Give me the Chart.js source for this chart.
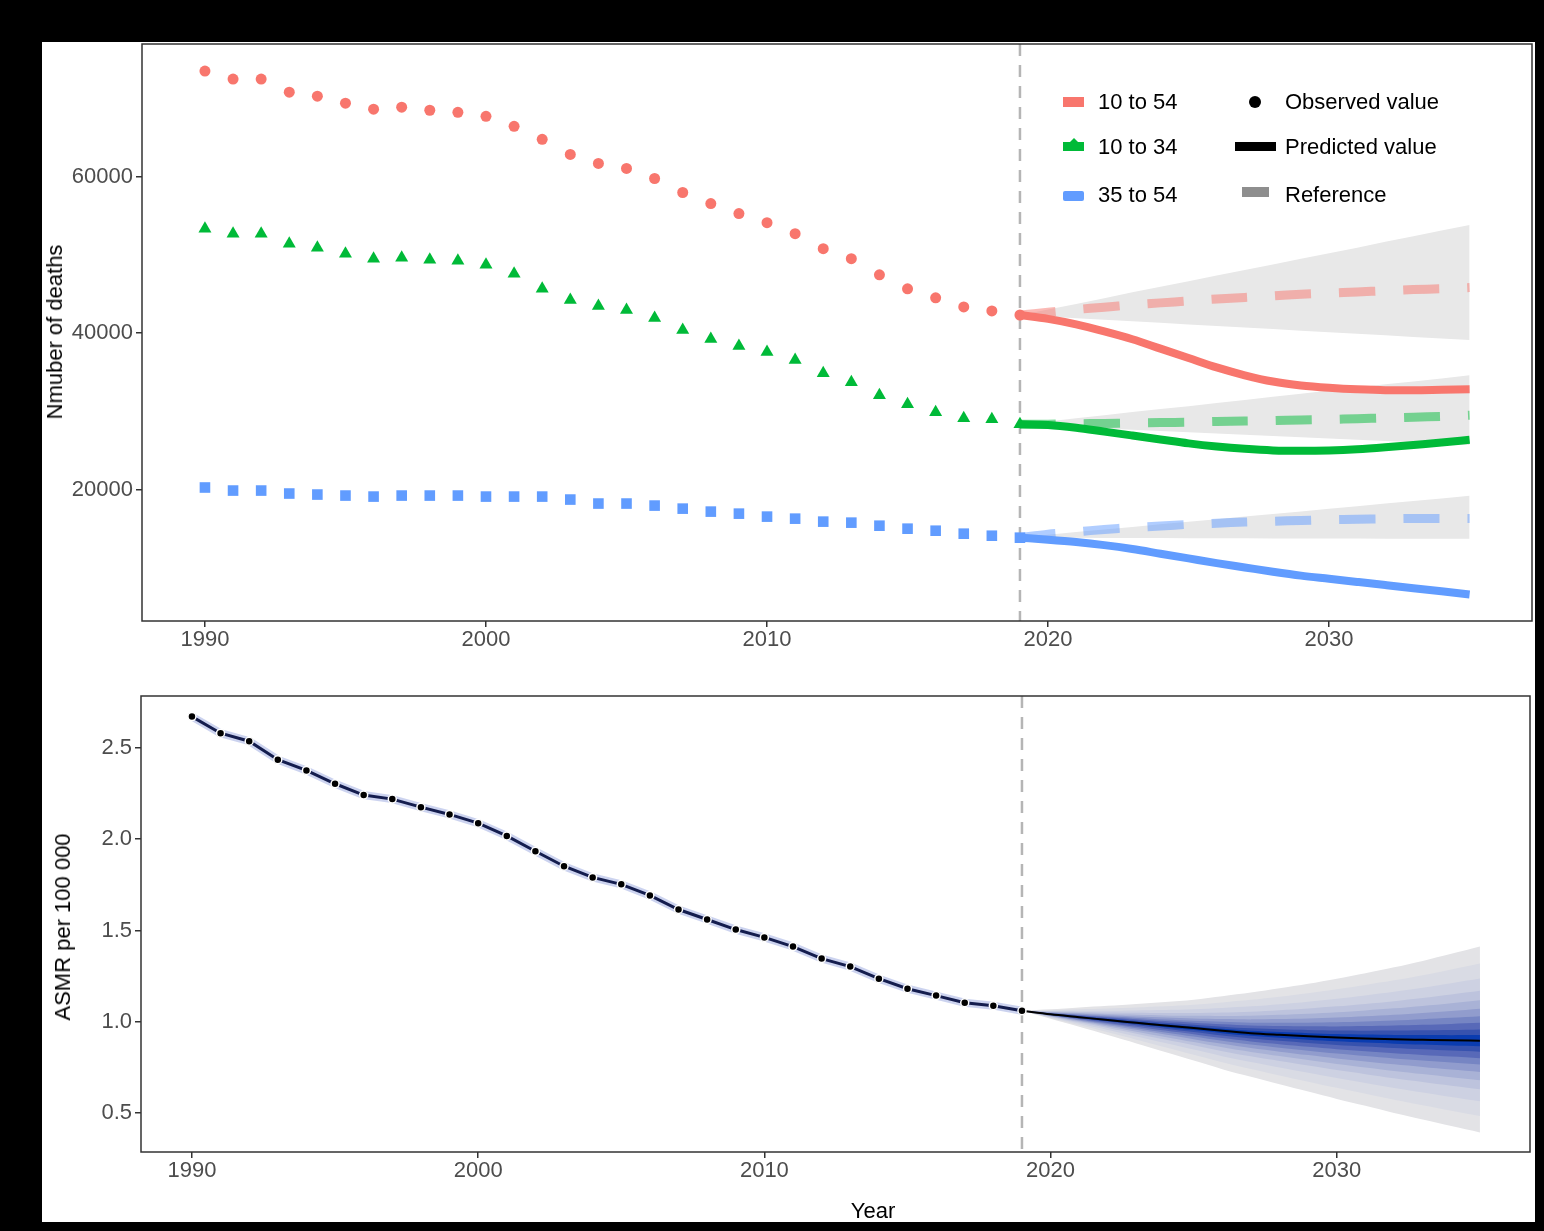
<!DOCTYPE html>
<html>
<head>
<meta charset="utf-8">
<script src="https://cdn.jsdelivr.net/npm/chart.js@4.4.1/dist/chart.umd.min.js"></script>
<style>
  html, body { margin: 0; padding: 0; background: #000; }
  body { width: 1544px; height: 1231px; position: relative; overflow: hidden; font-family: 'Liberation Sans', Arial, sans-serif; }
  #panel { position: absolute; left: 42px; top: 42px; width: 1493px; height: 1180px; background: #fff; overflow: hidden; }
  canvas { position: absolute; left: 0; }
  .ytitle { position: absolute; font-size: 22px; line-height: 22px; color: #000; white-space: nowrap; transform: translate(-50%, -50%) rotate(-90deg); }
  .xtitle { position: absolute; font-size: 22px; line-height: 22px; color: #000; transform: translateX(-50%); }
  .lg-txt { position: absolute; font-size: 22px; line-height: 22px; height: 22px; color: #000; white-space: nowrap; }
  .lg-key { position: absolute; }
</style>
</head>
<body>
<div id="panel">
  <canvas id="deaths" width="1493" height="640" style="top:0"></canvas>
  <canvas id="asmr" width="1493" height="506" style="top:652px"></canvas>

  <div class="ytitle" style="left:13px; top:290px;">Nmuber of deaths</div>
  <div class="ytitle" style="left:21px; top:885px;">ASMR per 100 000</div>
  <div class="xtitle" style="left:831px; top:1158px;">Year</div>

  <!-- legend, top chart -->
  <div class="lg-key" style="left:1021px; top:55px; width:21px; height:10px; background:#F8766D;"></div>
  <div class="lg-key" style="left:1021px; top:100px; width:21px; height:9px; background:#00BA38;"></div>
  <div class="lg-key" style="left:1027px; top:96px; width:0; height:0; border-left:5px solid transparent; border-right:5px solid transparent; border-bottom:5px solid #00BA38;"></div>
  <div class="lg-key" style="left:1021px; top:149px; width:21px; height:10px; background:#619CFF; border-radius:2px;"></div>
  <div class="lg-txt" style="left:1056px; top:49px;">10 to 54</div>
  <div class="lg-txt" style="left:1056px; top:94px;">10 to 34</div>
  <div class="lg-txt" style="left:1056px; top:142px;">35 to 54</div>

  <div class="lg-key" style="left:1207px; top:54px; width:12px; height:12px; border-radius:50%; background:#000;"></div>
  <div class="lg-key" style="left:1193px; top:100px; width:41px; height:9px; background:#000;"></div>
  <div class="lg-key" style="left:1200px; top:145px; width:27px; height:10px; background:#8e8e8e;"></div>
  <div class="lg-txt" style="left:1243px; top:49px;">Observed value</div>
  <div class="lg-txt" style="left:1243px; top:94px;">Predicted value</div>
  <div class="lg-txt" style="left:1243px; top:142px;">Reference</div>
</div>

<script>
// --- data ---
const obsYears = [1990, 1991, 1992, 1993, 1994, 1995, 1996, 1997, 1998, 1999,
                  2000, 2001, 2002, 2003, 2004, 2005, 2006, 2007, 2008, 2009,
                  2010, 2011, 2012, 2013, 2014, 2015, 2016, 2017, 2018, 2019];
const predYears = [2019, 2020, 2021, 2022, 2023, 2024, 2025, 2026, 2027,
                   2028, 2029, 2030, 2031, 2032, 2033, 2034, 2035];
const yearTicks = [1990, 2000, 2010, 2020, 2030];
const deathTicks = [20000, 40000, 60000];
const asmrTicks = [0.5, 1.0, 1.5, 2.0, 2.5];
const cutYear = 2019;

const groupLabels = ['10 to 54', '10 to 34', '35 to 54'];

// observed deaths
const obs1054 = [73460, 72440, 72440, 70770, 70260, 69360, 68590, 68850, 68460, 68200,
                 67690, 66410, 64740, 62820, 61670, 61030, 59740, 57950, 56540, 55260,
                 54100, 52690, 50770, 49490, 47440, 45640, 44490, 43330, 42820, 42300];
const obs1034 = [53330, 52690, 52690, 51410, 50900, 50130, 49490, 49620, 49360, 49230,
                 48720, 47560, 45640, 44230, 43460, 42950, 41920, 40380, 39230, 38330,
                 37560, 36540, 34870, 33720, 32050, 30900, 29870, 29100, 28970, 28330];
const obs3554 = [20260, 19870, 19870, 19490, 19360, 19230, 19100, 19230, 19230, 19230,
                 19100, 19100, 19100, 18720, 18210, 18210, 17950, 17560, 17180, 16920,
                 16540, 16280, 15900, 15770, 15380, 15000, 14740, 14360, 14100, 13850];

// predicted deaths
const pred1054 = [42300, 41800, 41100, 40200, 39200, 38000, 36800, 35600, 34600,
                  33800, 33300, 33000, 32800, 32700, 32700, 32750, 32800];
const pred1034 = [28330, 28250, 27900, 27400, 26900, 26400, 25900, 25500, 25200,
                  25000, 24950, 25000, 25150, 25400, 25700, 26000, 26350];
const pred3554 = [13850, 13600, 13300, 12900, 12400, 11800, 11200, 10600, 10050,
                  9500, 9000, 8600, 8200, 7800, 7400, 7000, 6600];

// reference projection (dashed) and its interval
const ref1054 = [42300, 42650, 43000, 43300, 43600, 43850, 44100, 44350, 44550,
                 44750, 44950, 45100, 45250, 45400, 45550, 45650, 45800];
const ref1054Hi = [42300, 43000, 43700, 44450, 45200, 45900, 46600, 47350, 48050,
                   48750, 49500, 50200, 50900, 51650, 52350, 53100, 53800];
const ref1054Lo = [42300, 42100, 41900, 41700, 41500, 41300, 41100, 40900, 40700,
                   40500, 40300, 40100, 39900, 39700, 39500, 39300, 39100];
const ref1034 = [28330, 28350, 28400, 28450, 28500, 28550, 28600, 28700, 28750,
                 28800, 28900, 28950, 29050, 29150, 29250, 29350, 29500];
const ref1034Hi = [28330, 28700, 29100, 29500, 29900, 30300, 30650, 31050, 31450,
                   31850, 32250, 32650, 33050, 33450, 33800, 34200, 34600];
const ref1034Lo = [28330, 28140, 27980, 27810, 27650, 27490, 27330, 27160, 27000,
                   26840, 26680, 26510, 26350, 26190, 26030, 25860, 25700];
const ref3554 = [13850, 14300, 14600, 14900, 15150, 15350, 15550, 15700, 15850,
                 15950, 16050, 16150, 16200, 16250, 16300, 16300, 16300];
const ref3554Hi = [13850, 14230, 14560, 14890, 15230, 15560, 15890, 16220, 16550,
                   16880, 17210, 17540, 17880, 18210, 18540, 18870, 19200];
const ref3554Lo = [13850, 13840, 13830, 13820, 13810, 13800, 13790, 13780, 13770,
                   13760, 13750, 13740, 13730, 13720, 13710, 13700, 13700];

// ASMR per 100 000
const asmrObs = [2.672, 2.581, 2.537, 2.436, 2.377, 2.304, 2.242, 2.220, 2.176, 2.136,
                 2.088, 2.018, 1.934, 1.852, 1.791, 1.753, 1.692, 1.615, 1.560, 1.505,
                 1.462, 1.412, 1.346, 1.302, 1.236, 1.181, 1.143, 1.104, 1.088, 1.060];
const asmrPred = [1.060, 1.041, 1.025, 1.009, 0.994, 0.979, 0.965, 0.950, 0.937,
                  0.928, 0.920, 0.913, 0.908, 0.904, 0.901, 0.898, 0.896];
const asmrHi = [1.060, 1.068, 1.078, 1.087, 1.097, 1.108, 1.121, 1.140, 1.160,
                1.183, 1.208, 1.236, 1.266, 1.298, 1.333, 1.372, 1.412];
const asmrLo = [1.060, 1.016, 0.972, 0.927, 0.881, 0.834, 0.787, 0.740, 0.698,
                0.657, 0.617, 0.577, 0.539, 0.500, 0.464, 0.428, 0.393];
// share of the outer interval covered by each shaded band, outer -> inner
const bandLevels = [1.0, 0.82, 0.66, 0.53, 0.43, 0.34, 0.26, 0.19, 0.12, 0.06];

// --- styling ---
const groupColors = ['#F8766D', '#00BA38', '#619CFF'];
const refColors = ['rgba(248,118,109,0.5)', 'rgba(0,186,56,0.5)', 'rgba(97,156,255,0.5)'];
const groupShapes = [['circle', 5.5], ['triangle', 7.5], ['rect', 7.5]];
const bandColors = ['#e3e3e6', '#d9dbe4', '#cdd1e2', '#bdc3dd', '#a9b2d6',
                    '#919ccd', '#7685c3', '#5869b8', '#3752ae', '#0a3cb0'];
const FONT = "'Liberation Sans', Arial, sans-serif";

const pts = (xs, ys) => xs.map((x, i) => ({ x, y: ys[i] }));

const frame = {
    id: 'frame',
    beforeDatasetsDraw(chart) {
        const { ctx, chartArea: a, scales: { x } } = chart;
        const px = x.getPixelForValue(cutYear);
        ctx.save();
        ctx.strokeStyle = '#b5b5b5'; ctx.lineWidth = 2.5; ctx.setLineDash([12, 9]);
        ctx.beginPath(); ctx.moveTo(px, a.top); ctx.lineTo(px, a.bottom); ctx.stroke();
        ctx.restore();
    },
    afterDraw(chart) {
        const { ctx, chartArea: a } = chart;
        ctx.save();
        ctx.strokeStyle = '#333'; ctx.lineWidth = 1.5;
        ctx.strokeRect(a.left, a.top, a.right - a.left, a.bottom - a.top);
        ctx.restore();
    },
};

// fixed axis box, no label overhang padding so the plot area lands where it should
const fixBox = (prop, px) => (s) => {
    s[prop] = px;
    s.paddingTop = s.paddingBottom = s.paddingLeft = s.paddingRight = 0;
};

function axis(min, max, ticks, fmt, fit, pad) {
    return {
        type: 'linear', min, max,
        afterBuildTicks: (s) => { s.ticks = ticks.map((value) => ({ value })); },
        afterFit: fit,
        grid: { drawOnChartArea: false, tickLength: 6, color: '#333', lineWidth: 1.5 },
        border: { display: false },
        ticks: { font: { family: FONT, size: 22 }, color: '#4d4d4d', padding: pad, autoSkip: false, maxRotation: 0, callback: fmt },
    };
}

function baseOptions(scales, padding) {
    return {
        responsive: false, animation: false, events: [],
        layout: { padding, autoPadding: false },
        plugins: { legend: { display: false }, tooltip: { enabled: false } },
        scales,
    };
}

// --- top: number of deaths ---
const obsSets = [obs1054, obs1034, obs3554];
const predSets = [pred1054, pred1034, pred3554];
const refSets = [[ref1054, ref1054Hi, ref1054Lo], [ref1034, ref1034Hi, ref1034Lo], [ref3554, ref3554Hi, ref3554Lo]];

const deathSets = [];
groupLabels.forEach((label, g) => {
    const [ref, hi, lo] = refSets[g];
    deathSets.push({ label: label + ' interval', data: pts(predYears, hi), fill: '+1', backgroundColor: '#e8e8e8', borderWidth: 0, pointRadius: 0, order: 20 });
    deathSets.push({ label: label + ' interval low', data: pts(predYears, lo), fill: false, borderWidth: 0, pointRadius: 0, order: 21 });
    deathSets.push({ label: label + ' reference', data: pts(predYears, ref), borderColor: refColors[g], borderWidth: 9, borderDash: [36, 28], borderCapStyle: 'butt', pointRadius: 0, tension: 0.3, order: 10 });
    deathSets.push({ label: label + ' predicted', data: pts(predYears, predSets[g]), borderColor: groupColors[g], borderWidth: 8, pointRadius: 0, cubicInterpolationMode: 'monotone', order: 5 });
    deathSets.push({ label: label + ' observed', data: pts(obsYears, obsSets[g]), showLine: false, pointStyle: groupShapes[g][0], pointRadius: groupShapes[g][1], pointBackgroundColor: groupColors[g], pointBorderWidth: 0, order: 1 });
});

new Chart(document.getElementById('deaths'), {
    type: 'line',
    data: { datasets: deathSets },
    options: baseOptions({
        x: axis(1987.76, 2037.22, yearTicks, (v) => String(v), fixBox('height', 61), 0),
        y: axis(3205, 76923, deathTicks, (v) => String(v), fixBox('width', 100), 3),
    }, { top: 2, right: 3, left: 0, bottom: 0 }),
    plugins: [frame],
});

// --- bottom: ASMR fan chart ---
const asmrSets = [];
bandLevels.forEach((lvl, k) => {
    const hi = asmrPred.map((c, i) => c + lvl * (asmrHi[i] - c));
    const lo = asmrPred.map((c, i) => c + lvl * (asmrLo[i] - c));
    asmrSets.push({ label: 'band ' + k, data: pts(predYears, hi), fill: '+1', backgroundColor: bandColors[k], borderWidth: 0, pointRadius: 0, tension: 0.3, order: 100 - 2 * k });
    asmrSets.push({ label: 'band ' + k + ' low', data: pts(predYears, lo), fill: false, borderWidth: 0, pointRadius: 0, tension: 0.3, order: 101 - 2 * k });
});
asmrSets.push({ label: 'predicted', data: pts(predYears, asmrPred), borderColor: '#000', borderWidth: 2, pointRadius: 0, cubicInterpolationMode: 'monotone', order: 50 });
asmrSets.push({ label: 'observed halo', data: pts(obsYears, asmrObs), borderColor: 'rgba(110,130,210,0.35)', borderWidth: 8, pointRadius: 0, order: 3 });
asmrSets.push({ label: 'observed', data: pts(obsYears, asmrObs), borderColor: '#141d4e', borderWidth: 3, pointRadius: 4, pointBackgroundColor: '#000', pointBorderColor: '#fff', pointBorderWidth: 1.5, order: 1 });

new Chart(document.getElementById('asmr'), {
    type: 'line',
    data: { datasets: asmrSets },
    options: baseOptions({
        x: axis(1988.22, 2036.75, yearTicks, (v) => String(v), fixBox('height', 48), 0),
        y: axis(0.286, 2.785, asmrTicks, (v) => v.toFixed(1), fixBox('width', 99), 3),
    }, { top: 2, right: 5, left: 0, bottom: 0 }),
    plugins: [frame],
});
</script>
</body>
</html>
